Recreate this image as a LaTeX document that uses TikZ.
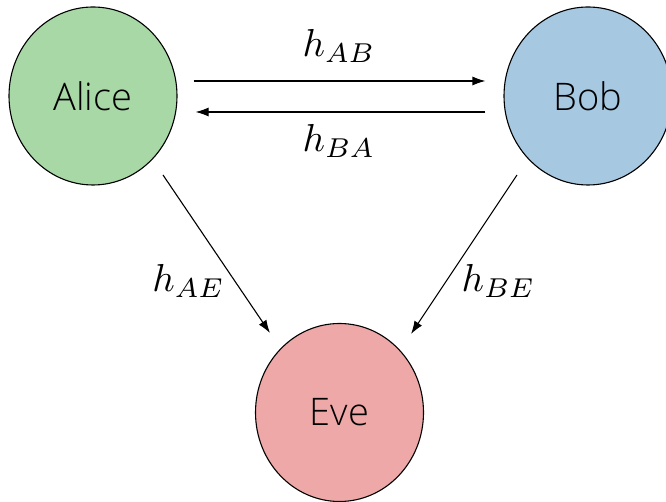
\documentclass[tikz,border=0pt]{standalone}
\usepackage{graphicx}
\usepackage{fontspec}
\setmainfont{Open Sans Light}
\usetikzlibrary{shapes.geometric,arrows.meta,calc}
\definecolor{alicegreen}{RGB}{169,216,167}
\definecolor{bobblue}{RGB}{166,200,225}
\definecolor{evepink}{RGB}{238,168,168}
\newcommand{\biglab}[1]{\scalebox{3.9}{$#1$}}
\begin{document}
\begin{tikzpicture}[x=1pt,y=1pt,
  party/.style={ellipse,draw=black,line width=1.1pt,minimum width=168pt,minimum height=178pt,inner sep=0pt,font=\fontsize{38}{46}\selectfont},
  arr/.style={line width=1.1pt,-{Latex[length=13pt,width=9pt]}},
  lbl/.style={anchor=base,inner sep=0pt,font=\fontsize{10}{12}\selectfont}]
\useasboundingbox (0,0) rectangle (666,502);
\node[party,fill=alicegreen] (alice) at (93,406) {Alice};
\node[party,fill=bobblue] (bob) at (588,406) {Bob};
\node[party,fill=evepink] (eve) at (339.5,89.5) {Eve};
\draw[arr] ([shift={(16pt,15pt)}]alice.east) -- ([shift={(-18pt,15pt)}]bob.west);
\draw[arr] ([shift={(-18pt,-16pt)}]bob.west) -- ([shift={(18pt,-16pt)}]alice.east);
\draw[arr] ([shift={(70pt,-79pt)}]alice.center) -- ([shift={(-69.5pt,79.5pt)}]eve.center);
\draw[arr] ([shift={(-71pt,-79pt)}]bob.center) -- ([shift={(71.5pt,78.5pt)}]eve.center);
\node[lbl] (lab) at (339,445) {\biglab{h_{AB}}};
\node[lbl] (lba) at (339,350) {\biglab{h_{BA}}};
\node[lbl] (lae) at (188.5,210) {\biglab{h_{AE}}};
\node[lbl] (lbe) at (498.5,210) {\biglab{h_{BE}}};
\end{tikzpicture}
\end{document}
